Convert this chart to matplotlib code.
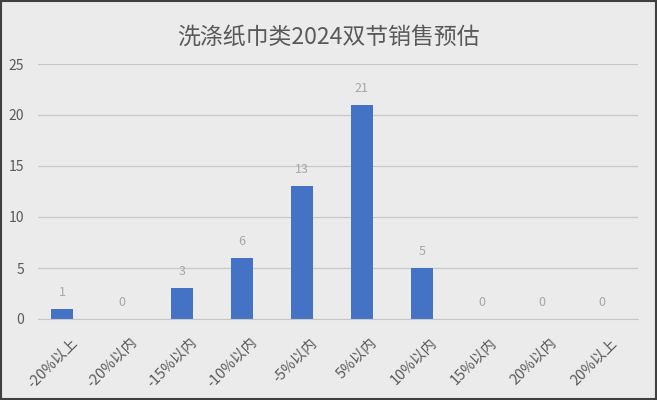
import matplotlib
matplotlib.use('Agg')
import matplotlib.pyplot as plt
import matplotlib.transforms as mtransforms
from matplotlib.patches import Rectangle

plt.rcParams['font.family'] = ['Noto Sans CJK SC', 'DejaVu Sans']

# chart data
categories = ['-20%以上', '-20%以内', '-15%以内', '-10%以内', '-5%以内',
              '5%以内', '10%以内', '15%以内', '20%以内', '20%以上']
counts = [1, 0, 3, 6, 13, 21, 5, 0, 0, 0]
y_ticks = [0, 5, 10, 15, 20, 25]
title = '洗涤纸巾类2024双节销售预估'

bg = '#ebebeb'
text_gray = '#595959'
bar_blue = '#4472c4'

fig = plt.figure(figsize=(6.57, 4.0), dpi=100, facecolor=bg)
ax = fig.add_axes([0.0578, 0.2025, 0.9132, 0.6375])
ax.set_facecolor(bg)

x = range(len(categories))
ax.bar(x, counts, width=0.37, color=bar_blue, zorder=3)

# value labels above bars
for xi, v in zip(x, counts):
    ax.text(xi, v + 1.0, str(v), ha='center', va='bottom',
            fontsize=9, color='#a6a6a6')

ax.set_xlim(-0.4, len(categories) - 0.4)
ax.set_ylim(0, 25)
ax.set_yticks(y_ticks)
ax.set_yticklabels([str(t) for t in y_ticks], fontsize=10, color=text_gray)
ax.yaxis.grid(True, color='#c8c8c8', linewidth=0.9, zorder=0)
ax.set_xticks(list(x))
ax.set_xticklabels(categories, rotation=45, ha='right', rotation_mode='anchor',
                   fontsize=10.5, color=text_gray)
ax.tick_params(axis='both', length=0)
ax.tick_params(axis='y', pad=10)
ax.tick_params(axis='x', pad=12)

# shift x labels a bit to the right of the bar centre, like the original
offset = mtransforms.ScaledTranslation(8 / 100, 0, fig.dpi_scale_trans)
for lbl in ax.get_xticklabels():
    lbl.set_transform(lbl.get_transform() + offset)

for side in ['top', 'right', 'left']:
    ax.spines[side].set_visible(False)
ax.spines['bottom'].set_color('#c8c8c8')
ax.spines['bottom'].set_zorder(4)

fig.suptitle(title, y=0.935, fontsize=16.5, color=text_gray)

# outer border
fig.patches.append(Rectangle((0.002, 0.003), 0.996, 0.994, transform=fig.transFigure,
                             fill=False, edgecolor='#404040', linewidth=1.5))

fig.savefig('out.png', dpi=100, facecolor=bg)
